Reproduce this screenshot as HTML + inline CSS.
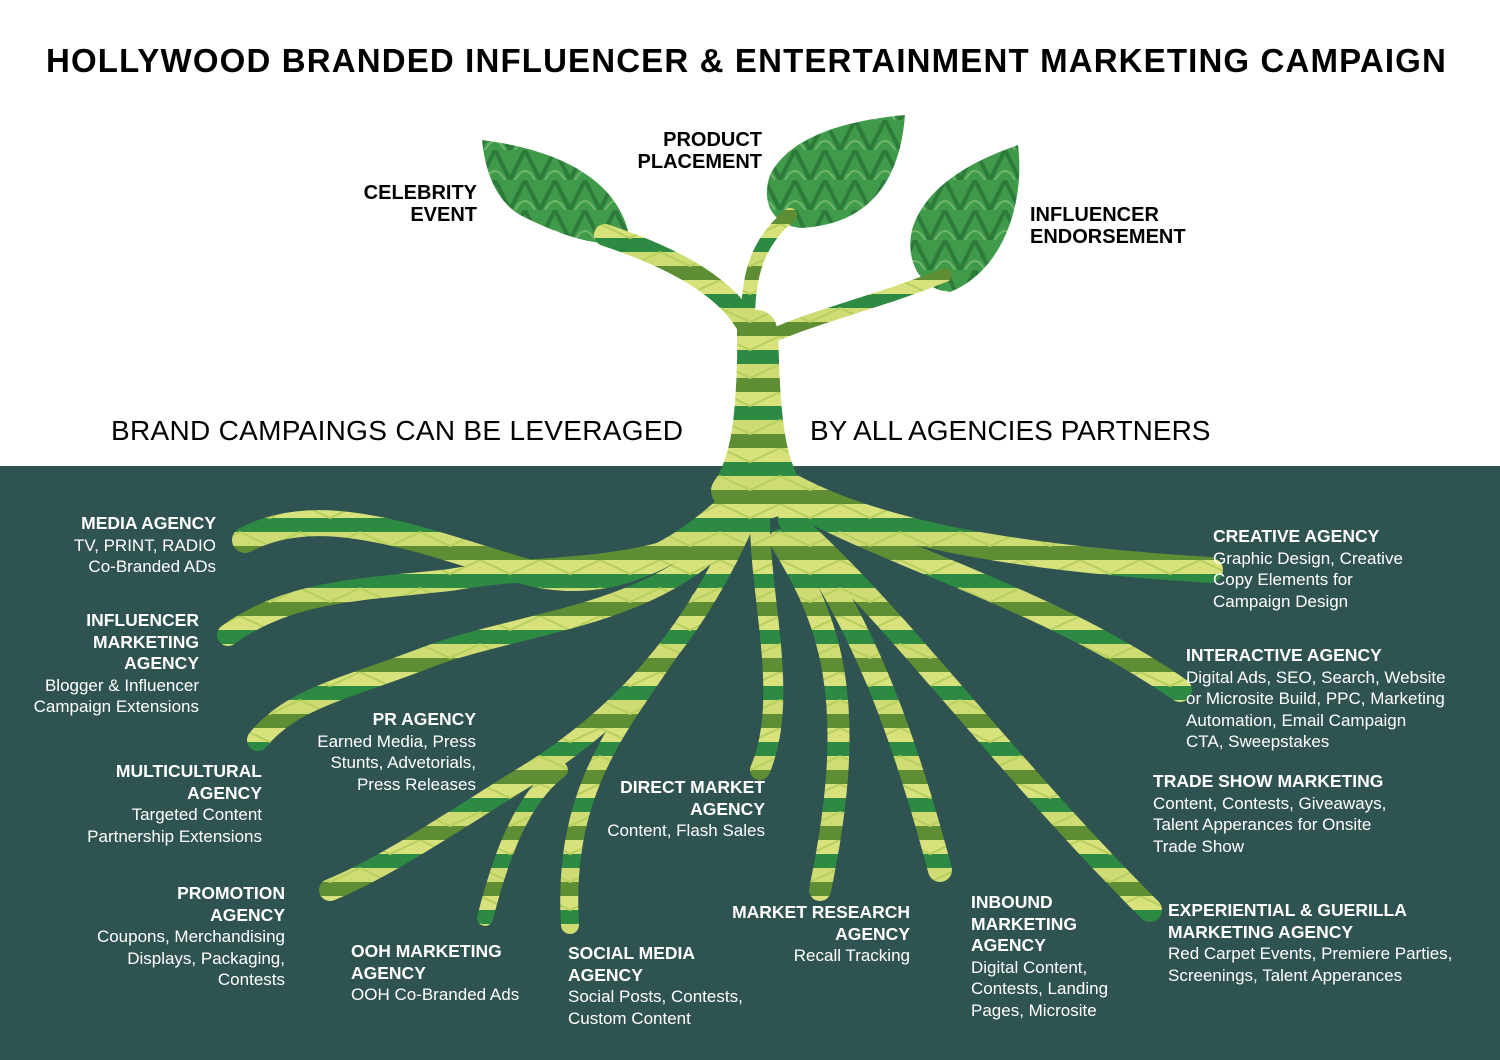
<!DOCTYPE html>
<html><head><meta charset="utf-8"><style>
*{margin:0;padding:0}
body{width:1500px;height:1060px;position:relative;overflow:hidden;background:#fff;font-family:"Liberation Sans",sans-serif}
.bg{position:absolute;left:0;top:466px;width:1500px;height:594px;background:#2f5350}
svg{position:absolute;left:0;top:0}
.t{position:absolute;color:#fff;font-size:17px;line-height:21.5px;white-space:nowrap}
.t b{font-weight:bold;font-size:17.5px}
.r{text-align:right}
.k{position:absolute;color:#000;font-weight:bold;font-size:20px;line-height:21.5px;white-space:nowrap}
</style></head><body>
<div class="bg"></div>
<svg width="1500" height="1060" viewBox="0 0 1500 1060">
<defs>
<pattern id="p" width="60" height="56" patternUnits="userSpaceOnUse">
<rect width="60" height="56" fill="#8fbd55"/>
<rect y="0" width="60" height="14" fill="#d8e27c"/>
<rect y="14" width="60" height="14" fill="#2c8a43"/>
<rect y="28" width="60" height="14" fill="#cfdc74"/>
<rect y="42" width="60" height="14" fill="#5e8d33"/>
<path d="M0 0 L30 14 L60 0 M0 28 L30 42 L60 28" stroke="#b7cf5c" stroke-width="2" fill="none"/>
</pattern>
<pattern id="lf" width="30" height="30" patternUnits="userSpaceOnUse">
<rect width="30" height="30" fill="#3f9a4a"/>
<path d="M0 30 L15 0 L30 30" stroke="#2e7a3a" stroke-width="4" fill="none"/>
<path d="M5 30 Q15 12 25 30" stroke="#6fb56c" stroke-width="2" fill="none"/>
</pattern>
</defs>
<g fill="url(#lf)">
<path d="M482 140 C560 150 620 180 630 240 C600 250 560 235 520 215 C495 200 485 170 482 140Z"/>
<path d="M905 115 C900 180 870 225 800 228 C775 225 760 205 770 175 C790 135 850 120 905 115Z"/>
<path d="M1018 145 C1025 200 1005 270 950 292 C920 290 905 260 912 230 C925 185 975 160 1018 145Z"/>
</g>
<path fill="url(#p)" d="M738 330 L778 330 C780 400 782 450 800 480 C820 500 780 520 760 520 C730 520 700 500 715 480 C735 450 736 400 738 330Z"/>
<g fill="none" stroke="url(#p)" stroke-linecap="round">
<path d="M750 330 C730 290 680 260 605 235" stroke-width="22"/>
<path d="M748 320 C748 270 760 240 790 215" stroke-width="14"/>
<path d="M765 340 C800 320 870 305 945 275" stroke-width="14"/>
<path d="M758 470 L757 330" stroke-width="40"/>
<path d="M755 480 C700 540 620 600 520 570 C420 540 320 500 245 540" stroke-width="26"/>
<path d="M750 500 C680 580 560 560 450 580 C360 590 290 590 228 635" stroke-width="22"/>
<path d="M740 520 C660 620 520 620 420 660 C340 690 290 700 258 740" stroke-width="22"/>
<path d="M740 530 C690 640 620 720 520 780 C440 830 380 870 330 890" stroke-width="22"/>
<path d="M560 770 C520 800 500 860 485 918" stroke-width="16"/>
<path d="M700 600 C650 700 560 760 570 925" stroke-width="18"/>
<path d="M760 520 C760 600 790 700 760 770" stroke-width="20"/>
<path d="M780 540 C830 620 860 700 820 890" stroke-width="22"/>
<path d="M790 520 C860 620 900 720 940 870" stroke-width="24"/>
<path d="M800 530 C900 620 1000 760 1150 910" stroke-width="24"/>
<path d="M790 500 C900 560 1050 600 1180 690" stroke-width="24"/>
<path d="M780 480 C880 540 1050 560 1210 570" stroke-width="26"/>
</g>
</svg>
<div class="k" style="left:46px;top:44px;font-size:33px;line-height:34px;letter-spacing:1.15px">HOLLYWOOD BRANDED INFLUENCER &amp; ENTERTAINMENT MARKETING CAMPAIGN</div>
<div class="k r" style="left:340px;top:183px;width:137px">CELEBRITY<br>EVENT</div>
<div class="k r" style="left:600px;top:130px;width:162px">PRODUCT<br>PLACEMENT</div>
<div class="k" style="left:1030px;top:205px">INFLUENCER<br>ENDORSEMENT</div>
<div class="k" style="left:111px;top:416px;font-weight:normal;font-size:28px;line-height:30px;letter-spacing:0.3px">BRAND CAMPAINGS CAN BE LEVERAGED</div>
<div class="k" style="left:810px;top:416px;font-weight:normal;font-size:28px;line-height:30px">BY ALL AGENCIES PARTNERS</div>
<div class="t r" style="right:1284px;top:513px"><b>MEDIA AGENCY</b><br>TV, PRINT, RADIO<br>Co-Branded ADs</div>
<div class="t r" style="right:1301px;top:610px"><b>INFLUENCER<br>MARKETING<br>AGENCY</b><br>Blogger &amp; Influencer<br>Campaign Extensions</div>
<div class="t r" style="right:1024px;top:709px"><b>PR AGENCY</b><br>Earned Media, Press<br>Stunts, Advetorials,<br>Press Releases</div>
<div class="t r" style="right:1238px;top:761px"><b>MULTICULTURAL<br>AGENCY</b><br>Targeted Content<br>Partnership Extensions</div>
<div class="t r" style="right:1215px;top:883px"><b>PROMOTION<br>AGENCY</b><br>Coupons, Merchandising<br>Displays, Packaging,<br>Contests</div>
<div class="t" style="left:351px;top:941px"><b>OOH MARKETING<br>AGENCY</b><br>OOH Co-Branded Ads</div>
<div class="t" style="left:568px;top:943px"><b>SOCIAL MEDIA<br>AGENCY</b><br>Social Posts, Contests,<br>Custom Content</div>
<div class="t r" style="right:735px;top:777px"><b>DIRECT MARKET<br>AGENCY</b><br>Content, Flash Sales</div>
<div class="t r" style="right:590px;top:902px"><b>MARKET RESEARCH<br>AGENCY</b><br>Recall Tracking</div>
<div class="t" style="left:971px;top:892px"><b>INBOUND<br>MARKETING<br>AGENCY</b><br>Digital Content,<br>Contests, Landing<br>Pages, Microsite</div>
<div class="t" style="left:1213px;top:526px"><b>CREATIVE AGENCY</b><br>Graphic Design, Creative<br>Copy Elements for<br>Campaign Design</div>
<div class="t" style="left:1186px;top:645px"><b>INTERACTIVE AGENCY</b><br>Digital Ads, SEO, Search, Website<br>or Microsite Build, PPC, Marketing<br>Automation, Email Campaign<br>CTA, Sweepstakes</div>
<div class="t" style="left:1153px;top:771px"><b>TRADE SHOW MARKETING</b><br>Content, Contests, Giveaways,<br>Talent Apperances for Onsite<br>Trade Show</div>
<div class="t" style="left:1168px;top:900px"><b>EXPERIENTIAL &amp; GUERILLA<br>MARKETING AGENCY</b><br>Red Carpet Events, Premiere Parties,<br>Screenings, Talent Apperances</div>
</body></html>
